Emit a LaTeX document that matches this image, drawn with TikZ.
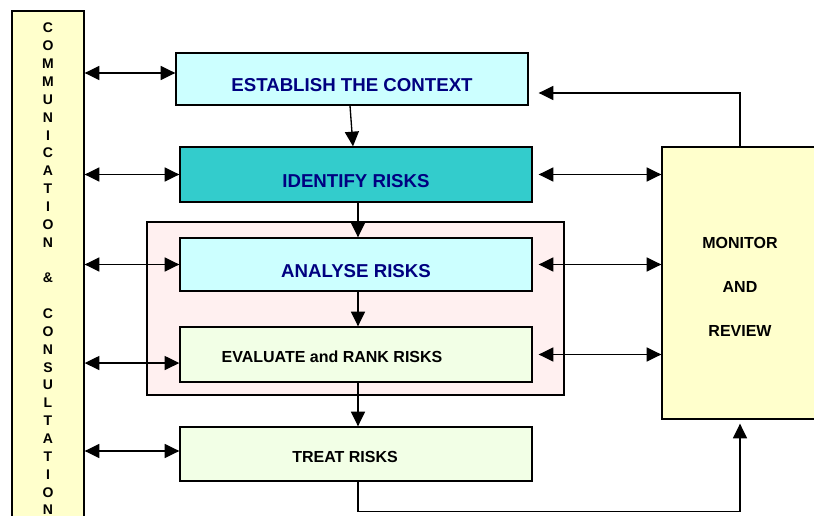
\documentclass[tikz,border=0pt]{standalone}
\usepackage{fontspec}
\setmainfont{Liberation Sans}
\usepackage{tikz}
\usetikzlibrary{
  arrows.meta,
  positioning
}
\tikzset{
  >={Triangle[length=11pt,width=10.5pt]},
  process box/.style={rectangle,draw=black,line width=1pt,
    minimum width=264pt,inner sep=0pt},
  blue label/.style={font=\fontsize{14}{16}\selectfont\bfseries,text=navytext,
    text height=19pt,text depth=0pt},
  black label/.style={font=\fontsize{12}{14}\selectfont\bfseries,text=black,
    text height=12.4pt,text depth=0pt},
  bar letter/.style={font=\fontsize{10.5}{12}\selectfont\bfseries,
    inner sep=0pt,text height=7.5pt,text depth=0pt},
  link/.style={->,line width=1pt},
  two way/.style={<->,line width=1pt}
}
\definecolor{barfill}{HTML}{FFFFCC}
\definecolor{stepfill}{HTML}{CCFFFF}
\definecolor{identfill}{HTML}{33CCCC}
\definecolor{greenfill}{HTML}{F2FFE6}
\definecolor{groupfill}{HTML}{FFF0F0}
\definecolor{navytext}{HTML}{000080}

\begin{document}
\begin{tikzpicture}[x=0.75pt,y=-0.75pt]
  \clip (0,0) rectangle (814,516);

  % grouping frame behind analyse / evaluate
  \node[process box,fill=groupfill,minimum width=312.75pt,
    minimum height=129.75pt] (riskgroup) at (355.5,308.5) {};

  % communication bar
  \node[process box,fill=barfill,minimum width=54pt,
    minimum height=396.75pt] (comm) at (48,275.5) {};
  \foreach \ch [count=\i] in {C,O,M,M,U,N,I,C,A,T,I,O,N,{},\&,{},
      C,O,N,S,U,L,T,A,T,I,O,N}
    \node[bar letter] (letter\i) at (48,{28+17.85*(\i-1)}) {\ch};

  \node[process box,fill=stepfill,minimum height=39pt,blue label]
    (establish) at (352,79) {ESTABLISH THE CONTEXT};
  \node[process box,fill=identfill,minimum height=41.25pt,blue label]
    (identify) at (356,174.5) {IDENTIFY RISKS};
  \node[process box,fill=stepfill,minimum height=39.75pt,blue label]
    (analyse) at (356,264.5) {ANALYSE RISKS};
  \node[process box,fill=greenfill,minimum height=41.25pt,black label]
    (evaluate) at (356,354.5) {EVALUATE and RANK RISKS\hspace*{36pt}};
  \node[process box,fill=greenfill,minimum height=40.5pt,black label]
    (treat) at (356,454) {TREAT RISKS\hspace*{16.5pt}};
  \node[process box,fill=barfill,minimum width=117pt,minimum height=204pt,
    font=\fontsize{12}{33}\selectfont\bfseries,align=center]
    (monitor) at (740,283) {\rule{0pt}{14pt}MONITOR\\AND\\REVIEW};

  % communication links
  \draw[two way] ([yshift=4.5pt]comm.east |- establish.west)
    -- ([yshift=4.5pt]establish.west);
  \draw[two way] (comm.east |- identify.west) -- (identify.west);
  \draw[two way] (comm.east |- analyse.west) -- (analyse.west);
  \draw[two way] ([yshift=-6.4pt]comm.east |- evaluate.west)
    -- ([yshift=-6.4pt]evaluate.west);
  \draw[two way] ([yshift=2.25pt]comm.east |- treat.west)
    -- ([yshift=2.25pt]treat.west);

  % main flow
  \draw[link] ([xshift=-1.5pt]establish.south) -- ([xshift=-2.25pt]identify.north);
  \draw[link] ([xshift=1.5pt]identify.south) -- ([xshift=1.5pt]analyse.north);
  \draw[link] ([xshift=1.5pt]analyse.south) -- ([xshift=1.5pt]evaluate.north);
  \draw[link] ([xshift=1.5pt]evaluate.south) -- ([xshift=1.5pt]treat.north);

  % monitor links
  \draw[two way,shorten <=4.5pt] (identify.east) -- (monitor.west |- identify.east);
  \draw[two way,shorten <=4.5pt] (analyse.east) -- (monitor.west |- analyse.east);
  \draw[two way,shorten <=4.5pt] (evaluate.east) -- (monitor.west |- evaluate.east);
  \draw[link,shorten >=7.5pt] (monitor.north) |- ([yshift=-10.5pt]establish.east);
  \draw[link,shorten >=3pt] ([xshift=1.5pt]treat.south) -- ++(0,30) -| (monitor.south);
\end{tikzpicture}
\end{document}
